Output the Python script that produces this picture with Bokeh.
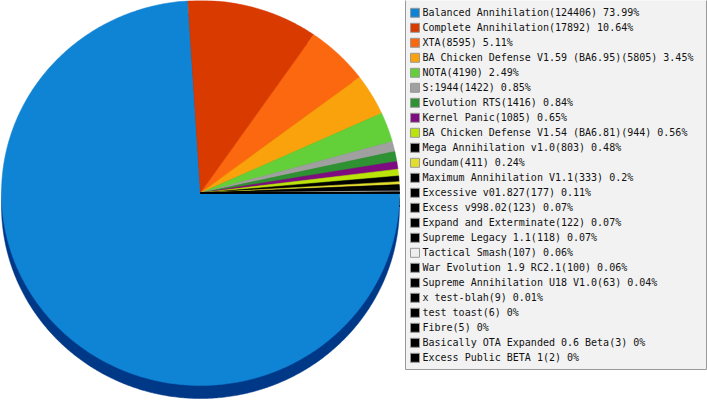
import numpy as np
from bokeh.plotting import figure
from bokeh.models import ColumnDataSource, Range1d
from bokeh.core.properties import value
from bokeh.embed import file_html
from bokeh.resources import INLINE

# ---------------- data ----------------
names = [
    "Balanced Annihilation", "Complete Annihilation", "XTA",
    "BA Chicken Defense V1.59 (BA6.95)", "NOTA", "S:1944", "Evolution RTS",
    "Kernel Panic", "BA Chicken Defense V1.54 (BA6.81)", "Mega Annihilation v1.0",
    "Gundam", "Maximum Annihilation V1.1", "Excessive v01.827", "Excess v998.02",
    "Expand and Exterminate", "Supreme Legacy 1.1", "Tactical Smash",
    "War Evolution 1.9 RC2.1", "Supreme Annihilation U18 V1.0", "x test-blah",
    "test toast", "Fibre", "Basically OTA Expanded 0.6 Beta", "Excess Public BETA 1",
]
counts = [124406, 17892, 8595, 5805, 4190, 1422, 1416, 1085, 944, 803,
          411, 333, 177, 123, 122, 118, 107, 100, 63, 9, 6, 5, 3, 2]
pct_labels = ["73.99%", "10.64%", "5.11%", "3.45%", "2.49%", "0.85%", "0.84%",
              "0.65%", "0.56%", "0.48%", "0.24%", "0.2%", "0.11%", "0.07%",
              "0.07%", "0.07%", "0.06%", "0.06%", "0.04%", "0.01%", "0%", "0%",
              "0%", "0%"]
colors = ["#1084d4", "#d83a00", "#fc6810", "#f9a20b", "#63d039", "#a0a0a0",
          "#2e9132", "#7e0b80", "#bbe40a", "#000000", "#e3de2d", "#000000",
          "#000000", "#000000", "#000000", "#000000", "#eeeeee", "#000000",
          "#000000", "#000000", "#000000", "#000000", "#000000", "#000000"]

# ---------------- layout (pixel space 707 x 400) ----------------
REF_W, REF_H = 707, 400
CX, CY = 200.0, REF_H - 192.5     # pie centre (data coords, y up)
RX, RY = 199.0, 192.5             # ellipse radii
DEPTH = 13.0                       # 3D thickness


def darker(hexcol, amt=76):
    r, g, b = (int(hexcol[i:i + 2], 16) for i in (1, 3, 5))
    return "#%02x%02x%02x" % (max(r - amt, 0), max(g - amt, 0), max(b - amt, 0))


counts_arr = np.array(counts, dtype=float)
frac = counts_arr / counts_arr.sum()
cum = np.concatenate([[0.0], np.cumsum(frac)])

top_xs, top_ys, side_ys = [], [], []
for i in range(len(counts)):
    a0, a1 = cum[i] * 2 * np.pi, cum[i + 1] * 2 * np.pi
    n = max(3, int((a1 - a0) / (2 * np.pi) * 720) + 2)
    t = np.linspace(a0, a1, n)
    xs = np.concatenate([[CX], CX + RX * np.cos(t)])
    ys = np.concatenate([[CY], CY - RY * np.sin(t)])
    top_xs.append(list(xs))
    top_ys.append(list(ys))
    side_ys.append(list(ys - DEPTH))

side_colors = [darker(c) for c in colors]

p = figure(width=REF_W, height=REF_H, x_range=Range1d(0, REF_W), y_range=Range1d(0, REF_H),
           output_backend="svg", toolbar_location=None, min_border=0,
           x_axis_location=None, y_axis_location=None)
p.grid.visible = False
p.outline_line_color = None
p.background_fill_color = "white"
p.border_fill_color = "white"

# side (extrusion) then top face
p.patches(xs=top_xs, ys=side_ys, fill_color=side_colors, line_color=side_colors, line_width=0.5)
p.patches(xs=top_xs, ys=top_ys, fill_color=colors, line_color=colors, line_width=0.5)

# ---------------- legend ----------------
p.quad(left=405, right=706, top=REF_H + 2, bottom=REF_H - 369,
       fill_color="#f2f2f2", line_color="#999999", line_width=1)

row_y = [REF_H - (12.3 + 15 * i) for i in range(len(names))]
labels = [f"{n}({c}) {pc}" for n, c, pc in zip(names, counts, pct_labels)]
src = ColumnDataSource(dict(y=row_y, label=labels, color=colors))

p.rect(x=414.5, y="y", width=9, height=9, source=src,
       fill_color="color", line_color="#999999", line_width=1)
p.text(x=422, y="y", text="label", source=src,
       text_font=value("DejaVu Sans Mono"), text_font_size="10px",
       text_baseline="middle", text_align="left", text_color="#111111")

open("out.html", "w").write(file_html(p, INLINE))
